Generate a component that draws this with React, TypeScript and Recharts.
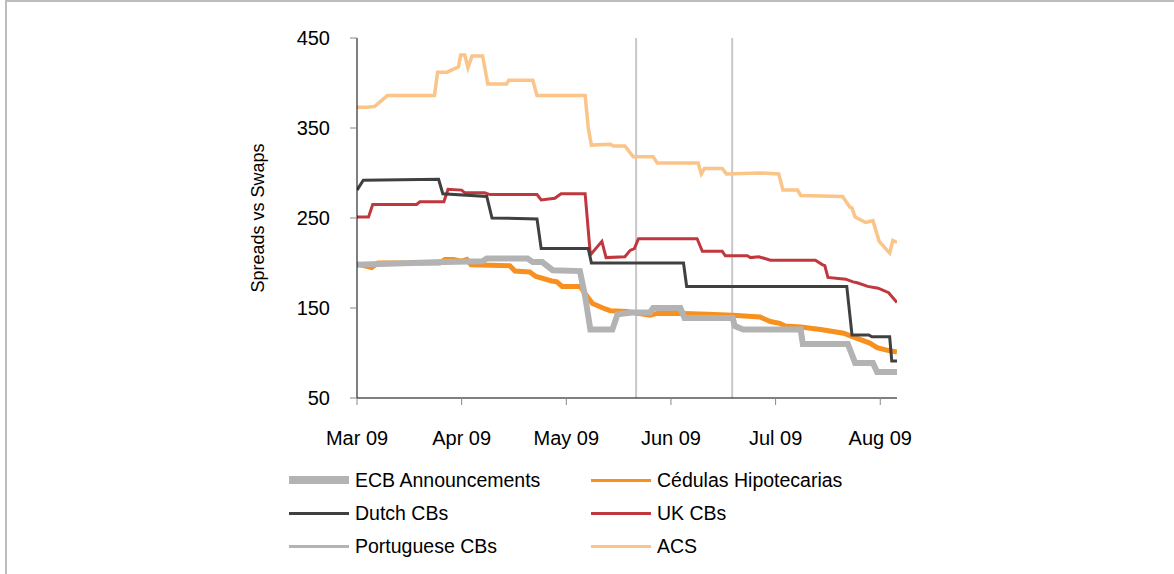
import { LineChart, Line, XAxis, YAxis, ReferenceLine, Label } from 'recharts';

// x = months since 1 Mar 2009
const monthLabels = ['Mar 09', 'Apr 09', 'May 09', 'Jun 09', 'Jul 09', 'Aug 09'];
const monthTicks = [0, 1, 2, 3, 4, 5];
const yTicks = [50, 150, 250, 350, 450];
const ecbAnnouncements = [2.667, 3.585];

const cedulas = [
  [0, 199], [0.14, 195], [0.2, 200], [0.79, 200], [0.84, 204], [0.92, 204], [1.0, 202], [1.05, 204],
  [1.09, 198], [1.46, 197], [1.51, 191], [1.65, 190], [1.71, 185], [1.86, 180], [1.91, 179], [1.96, 174],
  [2.13, 174], [2.18, 166], [2.25, 155], [2.35, 150], [2.42, 147], [2.58, 146], [2.8, 142], [2.87, 144],
  [3.12, 144], [3.35, 143], [3.59, 142], [3.85, 140], [3.95, 135], [4.04, 133], [4.09, 130], [4.24, 129],
  [4.43, 126], [4.65, 122], [4.74, 118], [4.9, 111], [4.97, 106], [5.07, 103], [5.16, 101],
];

const dutch = [
  [0, 281], [0.06, 292], [0.78, 293], [0.82, 277], [1.24, 274], [1.29, 250], [1.72, 249], [1.76, 216],
  [2.21, 216], [2.24, 200], [3.12, 200], [3.15, 174], [4.68, 174], [4.73, 120], [4.89, 120], [4.92, 118],
  [5.09, 118], [5.11, 91], [5.16, 91],
];

const uk = [
  [0, 251], [0.11, 251], [0.15, 265], [0.57, 265], [0.6, 268], [0.83, 268], [0.87, 282], [1.0, 281],
  [1.03, 278], [1.22, 278], [1.27, 276], [1.72, 276], [1.76, 270], [1.89, 272], [1.95, 277], [2.18, 277],
  [2.23, 209], [2.34, 224], [2.38, 206], [2.56, 207], [2.61, 214], [2.65, 216], [2.69, 227], [3.25, 227],
  [3.3, 213], [3.49, 213], [3.52, 208], [3.73, 208], [3.76, 206], [3.84, 207], [3.95, 203], [4.38, 203],
  [4.45, 198], [4.47, 197], [4.5, 184], [4.67, 182], [4.74, 179], [4.78, 178], [4.88, 174], [4.98, 172],
  [5.08, 167], [5.16, 156],
];

const portuguese = [
  [0, 198], [0.82, 201], [1.2, 202], [1.24, 205], [1.63, 205], [1.68, 201], [1.77, 201], [1.87, 192],
  [2.13, 191], [2.18, 163], [2.23, 126], [2.44, 126], [2.49, 143], [2.63, 145], [2.8, 145], [2.83, 150],
  [3.09, 150], [3.13, 139], [3.59, 139], [3.61, 130], [3.69, 126], [4.24, 126], [4.26, 110], [4.69, 110],
  [4.76, 89], [4.93, 89], [4.97, 79], [5.16, 79],
];

const acs = [
  [0, 373], [0.1, 373], [0.17, 374], [0.29, 386], [0.74, 386], [0.77, 412], [0.86, 412], [0.97, 418],
  [0.99, 431], [1.03, 431], [1.06, 417], [1.1, 430], [1.2, 430], [1.25, 399], [1.43, 399], [1.45, 403],
  [1.68, 403], [1.72, 386], [2.18, 386], [2.21, 350], [2.24, 331], [2.42, 332], [2.45, 330], [2.56, 330],
  [2.64, 318], [2.83, 318], [2.87, 311], [3.26, 311], [3.29, 299], [3.32, 305], [3.49, 305], [3.53, 299],
  [3.85, 300], [4.03, 299], [4.07, 281], [4.21, 281], [4.24, 275], [4.64, 274], [4.71, 262], [4.73, 261],
  [4.76, 251], [4.86, 245], [4.93, 247], [4.99, 224], [5.09, 211], [5.12, 225], [5.16, 223],
];

const toRows = (pts: number[][]) => pts.map(([x, v]) => ({ x, v }));

const font = '"Liberation Sans", Arial, sans-serif';

const series = [
  { name: 'Cédulas Hipotecarias', pts: cedulas, color: '#f7901e', width: 5 },
  { name: 'Portuguese CBs', pts: portuguese, color: '#b3b3b3', width: 6 },
  { name: 'ACS', pts: acs, color: '#fbc488', width: 3.5 },
  { name: 'UK CBs', pts: uk, color: '#c0383e', width: 3 },
  { name: 'Dutch CBs', pts: dutch, color: '#404040', width: 3 },
];

const legendItems = [
  { name: 'ECB Announcements', color: '#b3b3b3', h: 8 },
  { name: 'Cédulas Hipotecarias', color: '#f7901e', h: 3 },
  { name: 'Dutch CBs', color: '#404040', h: 3 },
  { name: 'UK CBs', color: '#c0383e', h: 3 },
  { name: 'Portuguese CBs', color: '#b3b3b3', h: 3 },
  { name: 'ACS', color: '#fbc488', h: 3 },
];

export default function App() {
  return (
    <div style={{ position: 'absolute', left: 0, top: 0, width: 1174, height: 574, background: '#fff', fontFamily: font }}>
      <div style={{ position: 'absolute', left: 5, top: 0, width: 1169, height: 574, borderTop: '2px solid #bdbdbd', borderLeft: '2px solid #bdbdbd', boxSizing: 'border-box' }} />
      <LineChart width={1174} height={574} margin={{ top: 38, right: 277, bottom: 136, left: 240 }} style={{ position: 'absolute', left: 0, top: 0 }}>
        <XAxis
          type="number"
          dataKey="x"
          domain={[0, 5.16]}
          ticks={monthTicks}
          tickFormatter={(v) => monthLabels[v]}
          height={40}
          stroke="#000"
          tickLine={{ stroke: '#888' }}
          tickSize={7}
          tickMargin={26}
          tick={{ fill: '#000', fontSize: 20, fontFamily: font }}
          allowDataOverflow
        />
        <YAxis
          type="number"
          domain={[50, 450]}
          ticks={yTicks}
          width={117}
          stroke="#000"
          tickLine={{ stroke: '#888' }}
          tickSize={7}
          tickMargin={20}
          tick={{ fill: '#000', fontSize: 20, fontFamily: font }}
        >
          <Label
            content={(props: any) => {
              const vb = props.viewBox || { x: 240, y: 38, width: 117, height: 360 };
              const cx = vb.x + 18;
              const cy = vb.y + vb.height / 2;
              return (
                <text x={cx} y={cy} transform={`rotate(-90 ${cx} ${cy})`} textAnchor="middle" dominantBaseline="central" fontSize={18} fontFamily={font} fill="#000">
                  Spreads vs Swaps
                </text>
              );
            }}
          />
        </YAxis>
        {ecbAnnouncements.map((d) => (
          <ReferenceLine key={d} x={d} stroke="#c8c8c8" strokeWidth={2} />
        ))}
        {series.map((s) => (
          <Line
            key={s.name}
            data={toRows(s.pts)}
            dataKey="v"
            name={s.name}
            type="linear"
            stroke={s.color}
            strokeWidth={s.width}
            dot={false}
            activeDot={false}
            isAnimationActive={false}
          />
        ))}
      </LineChart>
      {legendItems.map((item, i) => {
        const col = i % 2;
        const row = Math.floor(i / 2);
        const left = col === 0 ? 289 : 591;
        const cy = 480 + row * 33;
        return (
          <div key={item.name} style={{ position: 'absolute', left, top: cy - 12, height: 24, display: 'flex', alignItems: 'center', whiteSpace: 'nowrap' }}>
            <div style={{ width: 60, height: item.h, background: item.color }} />
            <span style={{ marginLeft: 6, fontSize: 19.5, color: '#000' }}>{item.name}</span>
          </div>
        );
      })}
    </div>
  );
}
